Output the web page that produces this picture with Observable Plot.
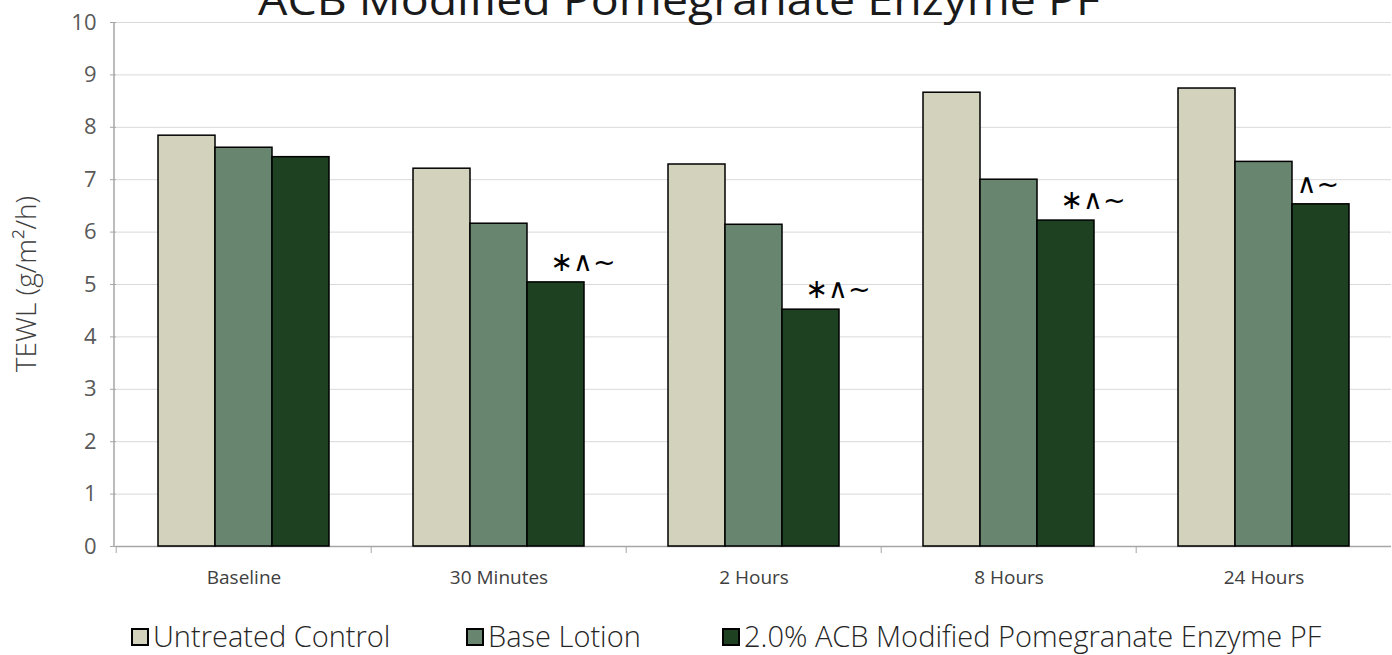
<!DOCTYPE html>
<html>
<head>
<meta charset="utf-8">
<script src="https://cdn.jsdelivr.net/npm/d3@7"></script>
<script src="https://cdn.jsdelivr.net/npm/@observablehq/plot@0.6"></script>
<style>
  html, body { margin: 0; padding: 0; background: #fff; overflow: hidden; }
  #wrap { position: relative; width: 1392px; height: 655px; font-family: "Open Sans", sans-serif; }
  #title { position: absolute; left: 0; top: 0; }
  #chart { position: absolute; left: 0; top: 0; }
  #legend { position: absolute; left: 0; top: 621px; width: 1392px; height: 32px; }
  .item { position: absolute; top: 0; display: flex; align-items: center; font-size: 29px; line-height: 30px; font-weight: 300; color: #262626; white-space: nowrap; }
  .sw { width: 14px; height: 14px; border: 2px solid #000; margin-right: 4px; margin-top: 2px; }
</style>
</head>
<body>
<div id="wrap">
  <div id="chart"></div>
  <svg id="title" width="1392" height="40"></svg>
  <div id="legend"></div>
</div>
<script>
// ---- data ----
const groups = ["Baseline", "30 Minutes", "2 Hours", "8 Hours", "24 Hours"];
const series = ["Untreated Control", "Base Lotion", "2.0% ACB Modified Pomegranate Enzyme PF"];
const untreated = [7.84, 7.21, 7.29, 8.66, 8.74];
const baseLotion = [7.61, 6.16, 6.14, 7.00, 7.34];
const enzyme = [7.43, 5.04, 4.52, 6.22, 6.53];
const sigLabels = ["", "∗∧~", "∗∧~", "∗∧~", "∧~"];
const yTicks = [0, 1, 2, 3, 4, 5, 6, 7, 8, 9, 10];
const colors = ["#d2d2bd", "#688570", "#1d4121"];
const titleText = "ACB Modified Pomegranate Enzyme PF";
const yLabel = "TEWL (g/m²/h)";

// ---- layout ----
const W = 1392, H = 600, ML = 114, MR = 0, MT = 22, MB = 54;
const facetW = (W - ML - MR) / groups.length;
const legendLeft = [131, 466, 722];

const valuesBySeries = [untreated, baseLotion, enzyme];
const rows = groups.flatMap((g, i) => series.map((s, j) => ({group: g, series: s, value: valuesBySeries[j][i]})));
const notes = groups.map((g, i) => ({group: g, series: series[2], value: enzyme[i], label: sigLabels[i]})).filter(d => d.label);
const starNotes = notes.filter(d => d.label.startsWith("∗"));
const otherNotes = notes.filter(d => !d.label.startsWith("∗"));

const chart = Plot.plot({
  width: W, height: H,
  marginLeft: ML, marginRight: MR, marginTop: MT, marginBottom: MB,
  style: {fontFamily: "Open Sans, sans-serif", overflow: "visible", background: "transparent"},
  fx: {domain: groups, padding: 0},
  x: {domain: series, paddingInner: 0, paddingOuter: 0.73, axis: null},
  y: {domain: [0, 10]},
  color: {domain: series, range: colors},
  marks: [
    Plot.gridY(yTicks, {stroke: "#d9d9d9", strokeOpacity: 1, strokeWidth: 1}),
    Plot.axisY({ticks: yTicks, tickSize: 6, tickPadding: 14, fontSize: 22, fill: "#595959", stroke: "#a6a6a6", strokeOpacity: 1, label: null}),
    Plot.axisFx({anchor: "bottom", tickSize: 0, tickPadding: 24, fontSize: 19, fill: "#404040", label: null}),
    Plot.axisFx({anchor: "bottom", tickSize: 7, text: null, dx: -facetW / 2, stroke: "#a6a6a6", strokeOpacity: 1, label: null}),
    Plot.ruleY([0], {stroke: "#a6a6a6", strokeWidth: 1.5}),
    Plot.barY(rows, {fx: "group", x: "series", y: "value", fill: "series", stroke: "#000", strokeWidth: 1.5}),
    Plot.text(starNotes, {fx: "group", x: "series", y: "value", text: "label", dx: 27, dy: -20, fontSize: 27, fontFamily: "DejaVu Sans", fill: "#000"}),
    Plot.text(otherNotes, {fx: "group", x: "series", y: "value", text: "label", dx: -3, dy: -20, fontSize: 27, fontFamily: "DejaVu Sans", fill: "#000"})
  ]
});
document.getElementById("chart").appendChild(chart);

// y axis line and rotated axis label
const svg = d3.select(chart);
svg.append("line")
  .attr("x1", ML).attr("x2", ML).attr("y1", MT).attr("y2", H - MB)
  .attr("stroke", "#a6a6a6").attr("stroke-width", 1.5);
svg.append("text")
  .attr("transform", `translate(36,${(MT + H - MB) / 2}) rotate(-90)`)
  .attr("text-anchor", "middle")
  .attr("font-family", "Open Sans, sans-serif")
  .attr("font-size", 28)
  .attr("font-weight", 300)
  .attr("fill", "#404040")
  .text(yLabel);

// title (top part clipped as in the reference)
d3.select("#title").append("text")
  .attr("x", 258).attr("y", 15)
  .attr("textLength", 842).attr("lengthAdjust", "spacingAndGlyphs")
  .attr("font-family", "Open Sans, sans-serif")
  .attr("font-size", 42)
  .attr("font-weight", 400)
  .attr("fill", "#1a1a1a")
  .text(titleText);

// legend
const legend = d3.select("#legend");
series.forEach((s, i) => {
  const it = legend.append("div").attr("class", "item").style("left", legendLeft[i] + "px");
  it.append("div").attr("class", "sw").style("background", colors[i]);
  it.append("span").text(s);
});
</script>
</body>
</html>
